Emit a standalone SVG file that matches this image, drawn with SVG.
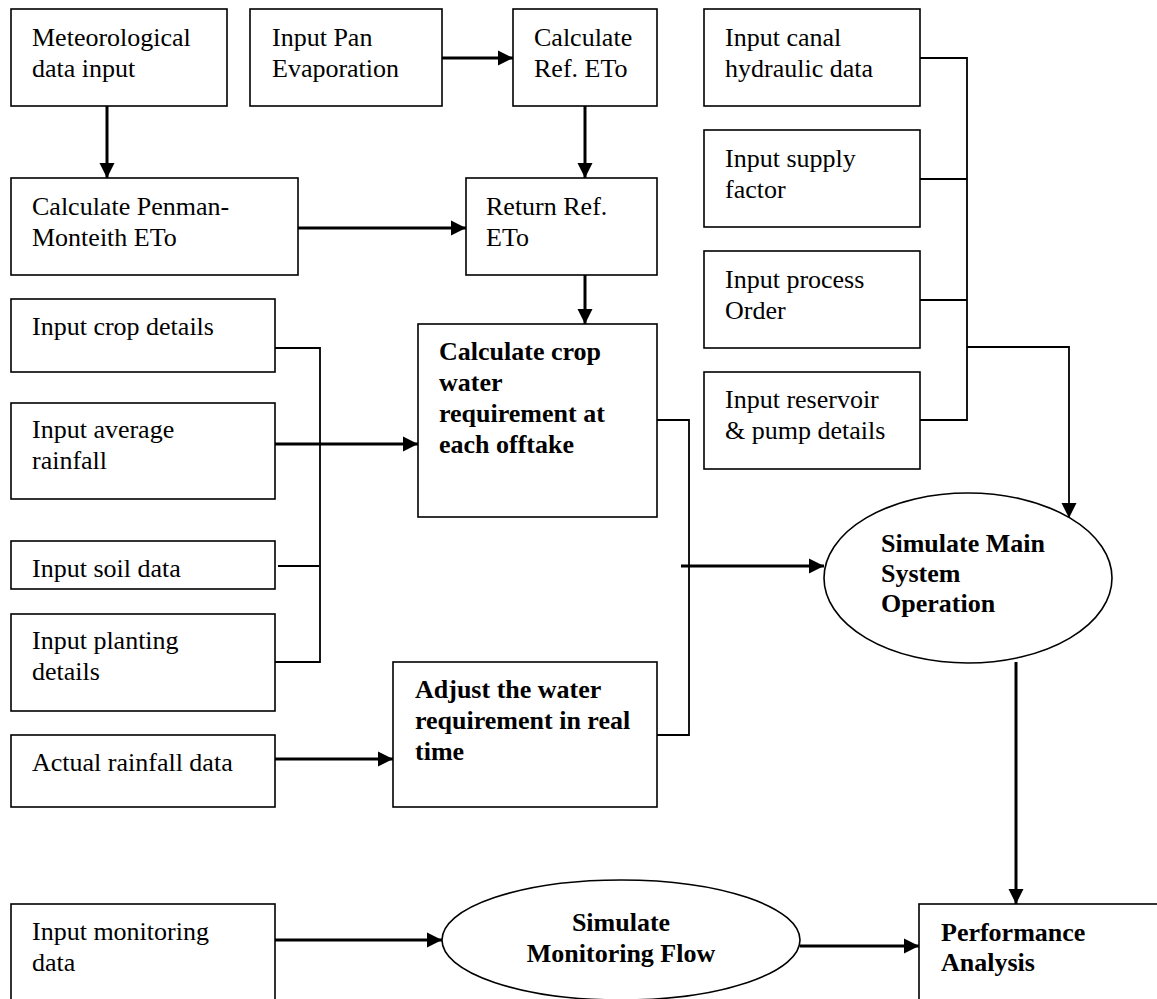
<svg xmlns="http://www.w3.org/2000/svg" width="1157" height="999" viewBox="0 0 1157 999">
<style>
.box{fill:#fff;stroke:#000;stroke-width:1.6}
.ell{fill:#fff;stroke:#000;stroke-width:1.6}
.t{font-family:"Liberation Serif","Times New Roman",serif;font-size:26px;fill:#000}
.b{font-family:"Liberation Serif","Times New Roman",serif;font-size:26px;font-weight:bold;fill:#000}
.c{text-anchor:middle}
.arr{fill:none;stroke:#000;stroke-width:3;marker-end:url(#ah)}
.arr2{fill:none;stroke:#000;stroke-width:1.8;marker-end:url(#ah)}
.ln{fill:none;stroke:#000;stroke-width:1.8}
</style>
<defs>
<marker id="ah" markerUnits="userSpaceOnUse" markerWidth="16" markerHeight="16" refX="15" refY="7.5" orient="auto" viewBox="0 0 16 15">
<path d="M0,0 L15,7.5 L0,15 z" fill="#000"/>
</marker>
</defs>
<rect width="1157" height="999" fill="#fff"/>

<g id="connectors">
<path class="arr" d="M107,106 V178"/>
<path class="arr" d="M442,58 H513"/>
<path class="arr" d="M585,106 V178"/>
<path class="arr" d="M298,228 H466"/>
<path class="arr" d="M585,275 V324"/>
<path class="ln" d="M275,348 H320 V662 H275"/>
<path class="ln" d="M278,566 H319"/>
<path class="arr" d="M273,444 H418"/>
<path class="ln" d="M657,420 H689 V735 H657"/>
<path class="arr" d="M681,566 H824"/>
<path class="ln" d="M920,58 H967 V420 H920"/>
<path class="ln" d="M920,179 H967"/>
<path class="ln" d="M920,300 H967"/>
<path class="arr2" d="M967,347 H1069 V518"/>
<path class="arr" d="M275,759 H393"/>
<path class="arr" d="M1016,662 V904"/>
<path class="arr" d="M275,940 H442"/>
<path class="arr" d="M800,946 H919"/>
</g>

<g id="met">
<rect class="box" x="11" y="9" width="216" height="97"/>
<text class="t" x="32" y="46">Meteorological</text>
<text class="t" x="32" y="77">data input</text>
</g>
<g id="pan">
<rect class="box" x="250" y="9" width="192" height="97"/>
<text class="t" x="272" y="46">Input Pan</text>
<text class="t" x="272" y="77">Evaporation</text>
</g>
<g id="calcref">
<rect class="box" x="513" y="9" width="144" height="97"/>
<text class="t" x="534" y="46">Calculate</text>
<text class="t" x="534" y="77">Ref. ETo</text>
</g>
<g id="canal">
<rect class="box" x="704" y="9" width="216" height="97"/>
<text class="t" x="725" y="46">Input canal</text>
<text class="t" x="725" y="77">hydraulic data</text>
</g>
<g id="penman">
<rect class="box" x="11" y="178" width="287" height="97"/>
<text class="t" x="32" y="215">Calculate Penman-</text>
<text class="t" x="32" y="246">Monteith ETo</text>
</g>
<g id="returnref">
<rect class="box" x="466" y="178" width="191" height="97"/>
<text class="t" x="486" y="215">Return Ref.</text>
<text class="t" x="486" y="246">ETo</text>
</g>
<g id="supply">
<rect class="box" x="704" y="130" width="216" height="97"/>
<text class="t" x="725" y="167">Input supply</text>
<text class="t" x="725" y="198">factor</text>
</g>
<g id="process">
<rect class="box" x="704" y="251" width="216" height="97"/>
<text class="t" x="725" y="288">Input process</text>
<text class="t" x="725" y="319">Order</text>
</g>
<g id="reservoir">
<rect class="box" x="704" y="372" width="216" height="97"/>
<text class="t" x="725" y="408">Input reservoir</text>
<text class="t" x="725" y="439">&amp; pump details</text>
</g>
<g id="crop">
<rect class="box" x="11" y="299" width="264" height="73"/>
<text class="t" x="32" y="335">Input crop details</text>
</g>
<g id="avgrain">
<rect class="box" x="11" y="403" width="264" height="96"/>
<text class="t" x="32" y="438">Input average</text>
<text class="t" x="32" y="469">rainfall</text>
</g>
<g id="soil">
<rect class="box" x="11" y="541" width="264" height="48"/>
<text class="t" x="32" y="577">Input soil data</text>
</g>
<g id="planting">
<rect class="box" x="11" y="614" width="264" height="97"/>
<text class="t" x="32" y="649">Input planting</text>
<text class="t" x="32" y="680">details</text>
</g>
<g id="actualrain">
<rect class="box" x="11" y="735" width="264" height="72"/>
<text class="t" x="32" y="771">Actual rainfall data</text>
</g>
<g id="calccrop">
<rect class="box" x="418" y="324" width="239" height="193"/>
<text class="b" x="439" y="360">Calculate crop</text>
<text class="b" x="439" y="391">water</text>
<text class="b" x="439" y="422">requirement at</text>
<text class="b" x="439" y="453">each offtake</text>
</g>
<g id="adjust">
<rect class="box" x="393" y="662" width="264" height="145"/>
<text class="b" x="415" y="698">Adjust the water</text>
<text class="b" x="415" y="729">requirement in real</text>
<text class="b" x="415" y="760">time</text>
</g>
<g id="simmain">
<ellipse class="ell" cx="968" cy="578" rx="144" ry="85"/>
<text class="b" x="881" y="552">Simulate Main</text>
<text class="b" x="881" y="582">System</text>
<text class="b" x="881" y="612">Operation</text>
</g>
<g id="monitoring">
<rect class="box" x="11" y="904" width="264" height="120"/>
<text class="t" x="32" y="940">Input monitoring</text>
<text class="t" x="32" y="971">data</text>
</g>
<g id="simmon">
<ellipse class="ell" cx="621" cy="940" rx="179" ry="60"/>
<text class="b c" x="621" y="931">Simulate</text>
<text class="b c" x="621" y="962">Monitoring Flow</text>
</g>
<g id="performance">
<rect class="box" x="919" y="904" width="260" height="120"/>
<text class="b" x="941" y="941">Performance</text>
<text class="b" x="941" y="971">Analysis</text>
</g>
</svg>
